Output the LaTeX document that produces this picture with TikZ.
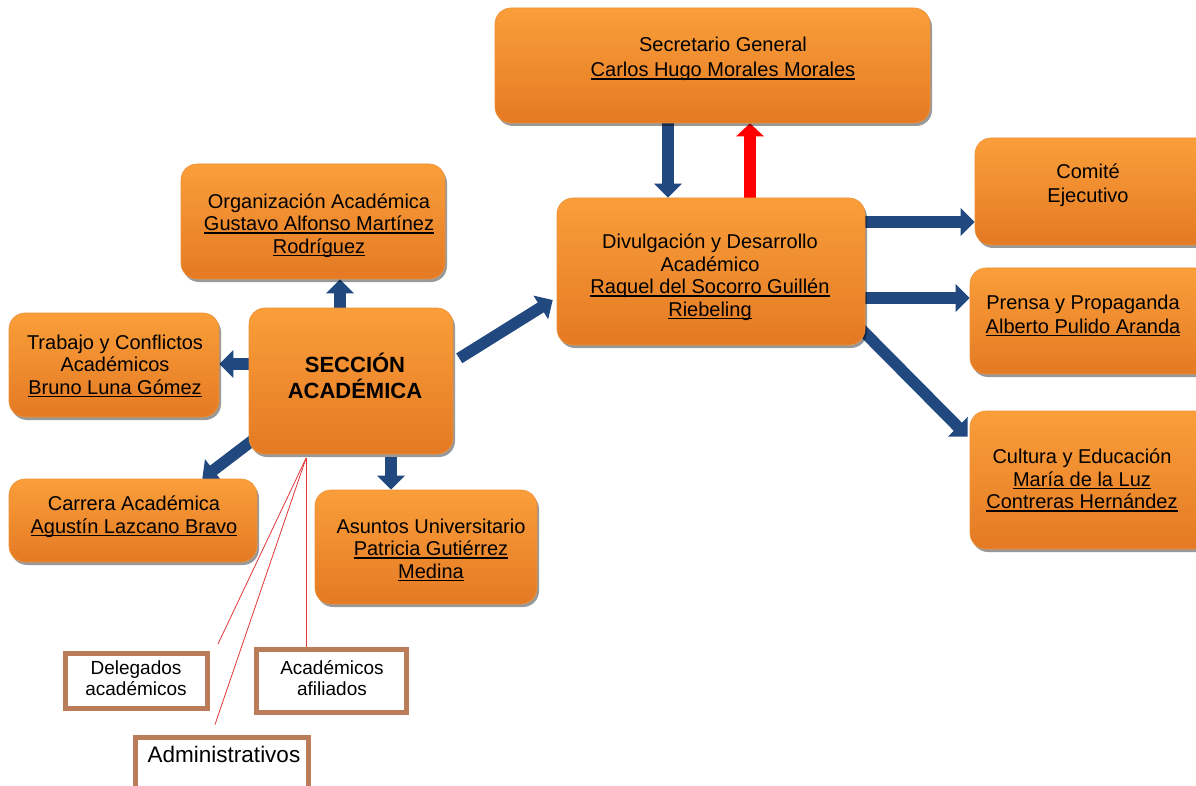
\documentclass[tikz,border=0pt]{standalone}
\usepackage{fontspec}
\setmainfont{Liberation Sans}
\usetikzlibrary{arrows.meta,shadows,calc}
\pgfdeclarelayer{bg}
\pgfsetlayers{bg,main}
\definecolor{arrowblue}{RGB}{33,73,128}
\definecolor{otop}{RGB}{250,158,58}
\definecolor{obot}{RGB}{228,122,36}
\definecolor{oedge}{RGB}{238,146,55}
\definecolor{brownb}{RGB}{187,124,90}
\definecolor{thinred}{RGB}{225,55,55}
\newcommand\nm[1]{\setbox0\hbox{#1}\rlap{\rule[-2.8pt]{\wd0}{1.4pt}}\box0}
\begin{document}
\begin{tikzpicture}[x=1pt,y=-1pt,
  box/.style={rectangle, rounded corners=16pt, draw=oedge, line width=0.6pt,
    top color=otop, bottom color=obot, inner sep=0pt,
    drop shadow={shadow xshift=2pt, shadow yshift=-3pt, opacity=0.4, fill=black}},
  bbox/.style={rectangle, draw=brownb, line width=5pt, fill=white, inner sep=0pt},
  txt/.style={align=center, inner sep=0pt, font=\fontsize{20}{22.5}\selectfont,
    execute at begin node=\strut, execute at end node=\strut},
  barrow/.style={draw=arrowblue, line width=11.5pt, -{Triangle[width=27pt,length=14pt]}},
  rarrow/.style={draw=red, line width=11.5pt, -{Triangle[width=27pt,length=13pt]}},
  fine/.style={draw=thinred, line width=0.8pt}]
\path[use as bounding box] (0,0) rectangle (1196,786);
\clip (0,0) rectangle (1196,786);

% orange boxes
\node[box, minimum width=435pt, minimum height=115pt] (sec) at (712.5,65.5) {};
\node[box, minimum width=308pt, minimum height=147pt] (div) at (711,271.5) {};
\node[box, minimum width=240pt, minimum height=107pt] (com) at (1095,191.5) {};
\node[box, minimum width=245pt, minimum height=106pt] (pre) at (1092.5,321) {};
\node[box, minimum width=245pt, minimum height=138pt] (cul) at (1092.5,480) {};
\node[box, minimum width=264pt, minimum height=115pt] (org) at (313,221.5) {};
\node[box, minimum width=204pt, minimum height=146pt] (sa) at (351,381) {};
\node[box, minimum width=210pt, minimum height=104pt] (tra) at (114,365) {};
\node[box, minimum width=248pt, minimum height=83pt] (car) at (133,520.5) {};
\node[box, minimum width=222pt, minimum height=114pt] (asu) at (426,547) {};

% brown boxes
\node[bbox, minimum width=142pt, minimum height=55pt] (del) at (136.5,681) {};
\node[bbox, minimum width=150pt, minimum height=63pt] (aca) at (331.5,681) {};
\node[bbox, minimum width=173pt, minimum height=62pt] (adm) at (222,768) {};

% texts
\node[txt, font=\fontsize{20}{25}\selectfont] (sec-t) at (723,61) {Secretario General\\\nm{Carlos Hugo Morales Morales}};
\node[txt] (div-t) at (710,278.5) {Divulgación y Desarrollo\\Académico\\\nm{Raquel del Socorro Guillén}\\\nm{Riebeling}};
\node[txt, font=\fontsize{20}{24}\selectfont] (com-t) at (1088,187) {Comité\\Ejecutivo};
\node[txt, font=\fontsize{20}{24}\selectfont] (pre-t) at (1083,318) {Prensa y Propaganda\\\nm{Alberto Pulido Aranda}};
\node[txt] (cul-t) at (1082,482.5) {Cultura y Educación\\\nm{María de la Luz}\\\nm{Contreras Hernández}};
\node[txt] (org-t) at (319,227) {Organización Académica\\\nm{Gustavo Alfonso Martínez}\\\nm{Rodríguez}};
\node[txt, font=\fontsize{22}{26}\selectfont\bfseries] (sa-t) at (355,380) {SECCIÓN\\ACADÉMICA};
\node[txt] (tra-t) at (115,368) {Trabajo y Conflictos\\Académicos\\\nm{Bruno Luna Gómez}};
\node[txt] (car-t) at (134,518) {Carrera Académica\\\nm{Agustín Lazcano Bravo}};
\node[txt] (asu-t) at (431,552) {Asuntos Universitario\\\nm{Patricia Gutiérrez}\\\nm{Medina}};
\node[txt, font=\fontsize{19}{21}\selectfont] (del-t) at (136,681) {Delegados\\académicos};
\node[txt, font=\fontsize{19}{21}\selectfont] (aca-t) at (332,681) {Académicos\\afiliados};
\node[txt, font=\fontsize{22.5}{27}\selectfont] (adm-t) at (224,757) {Administrativos};

% arrows
\begin{pgfonlayer}{bg}
\fill[white] (0,0) rectangle (1196,786);
\draw[barrow] (sec.south -| 668,0) -- (div.north -| 668,0);
\draw[rarrow] (div.north -| 750,0) -- (sec.south -| 750,0);
\draw[barrow] (div.east |- 0,222) -- (com.west |- 0,222);
\draw[barrow] (div.east |- 0,298) -- (pre.west |- 0,298);
\draw[barrow] ($(div.south east)+(-6,-18)$) -- ($(cul.north west)+(-2,26)$);
\draw[barrow, shorten <=7pt] ($(sa.east)+(0,-19)$) -- ($(div.west)+(-4,28.5)$);
\draw[barrow] (sa.north -| 340,0) -- (org.south -| 340,0);
\draw[barrow] (sa.west |- 0,364) -- (tra.east |- 0,364);
\draw[barrow] ($(sa.south west)+(4,-14)$) -- ($(car.north east)+(-55,0)$);
\draw[barrow, shorten <=3pt] (sa.south -| 391,0) -- (asu.north -| 391,0);
\end{pgfonlayer}

% thin red lines
\coordinate (apex) at ($(sa.south)+(-45,4)$);
\draw[fine] (apex) -- ($(del.north east)+(8,-7)$);
\draw[fine] (apex) -- ($(adm.north west)+(82,-10)$);
\draw[fine] (apex) -- (apex |- aca.north);
\end{tikzpicture}
\end{document}
